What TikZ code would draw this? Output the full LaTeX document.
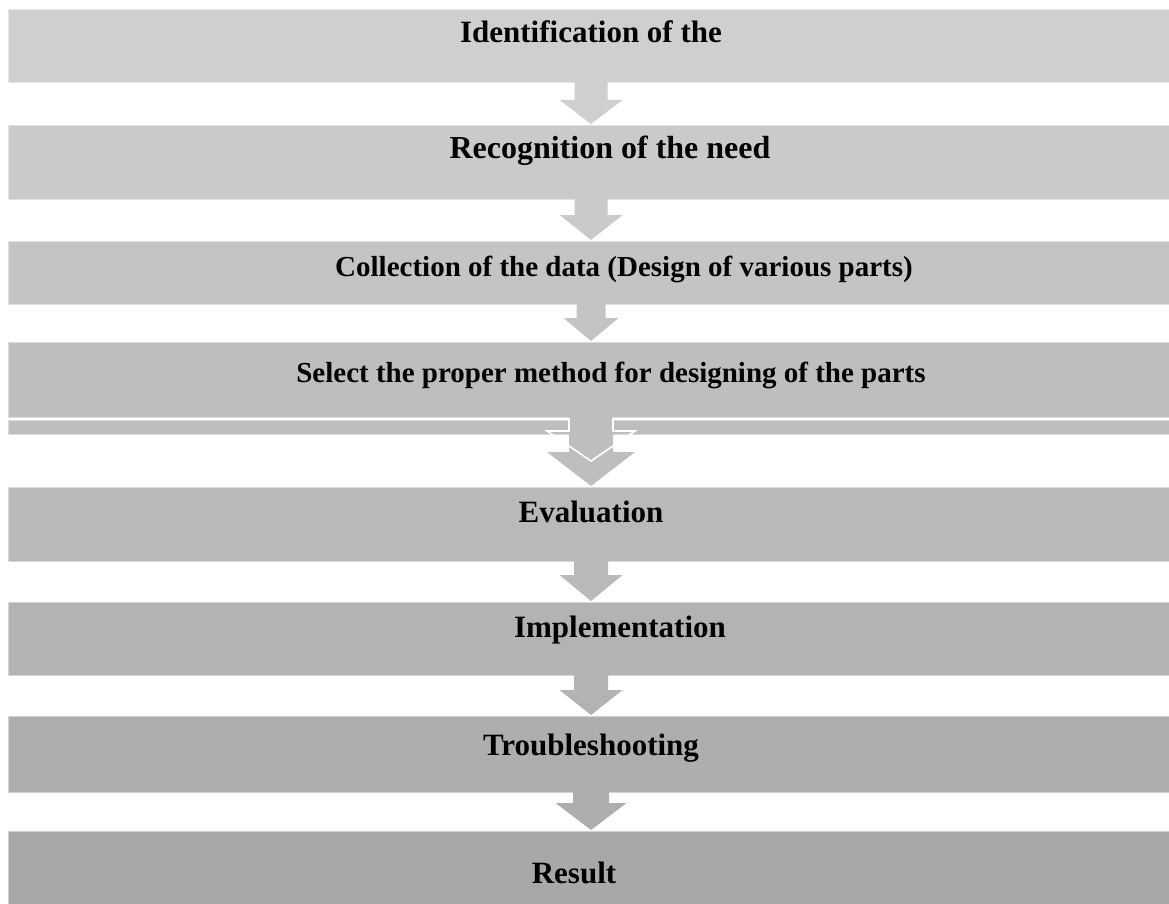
\documentclass[tikz,border=0pt]{standalone}
\usepackage{fontspec}
\setmainfont{Liberation Serif}
\usetikzlibrary{calc}
\definecolor{c1}{RGB}{207,207,207}
\definecolor{c2}{RGB}{202,202,202}
\definecolor{c3}{RGB}{196,196,196}
\definecolor{c4}{RGB}{190,190,190}
\definecolor{c5}{RGB}{185,185,185}
\definecolor{c6}{RGB}{179,179,179}
\definecolor{c7}{RGB}{174,174,174}
\definecolor{c8}{RGB}{168,168,168}
\tikzset{
  box/.style={rectangle, fill=#1, draw=#1!55!white, line width=1pt, inner sep=0pt,
              minimum width=1162pt, anchor=north west},
  lbl/.style={font=\bfseries\fontsize{31}{36}\selectfont, anchor=base, inner sep=0pt, text=black},
  lblsmall/.style={lbl, font=\bfseries\fontsize{29}{32}\selectfont},
  lblmid/.style={lbl, font=\bfseries\fontsize{29}{33}\selectfont},
}
% block arrow: #1 upper node, #2 lower node, #3 shaft half width, #4 head half width, #5 head length, #6 colour
\newcommand{\blockarrow}[6]{%
  \fill[#6] let \p1=(#1.south), \p2=(#2.north) in
    (591pt-#3,\y1+2pt) -- (591pt+#3,\y1+2pt) -- (591pt+#3,\y2+#5) -- (591pt+#4,\y2+#5)
    -- (591pt,\y2+1pt) -- (591pt-#4,\y2+#5) -- (591pt-#3,\y2+#5) -- cycle;}
\begin{document}
\begin{tikzpicture}[x=1pt,y=-1pt]
\useasboundingbox[fill=white] (0,0) rectangle (1169,904);
% boxes
\node[box=c1, minimum height=73pt] (b1) at (8,9) {};
\node[box=c2, minimum height=74pt] (b2) at (8,125) {};
\node[box=c3, minimum height=63pt] (b3) at (8,241) {};
\node[box=c4, minimum height=75pt] (b4) at (8,342) {};
\node[box=c4, minimum height=14pt] (s4) at (8,420) {};
\node[box=c5, minimum height=74pt] (b5) at (8,487) {};
\node[box=c6, minimum height=73pt] (b6) at (8,602) {};
\node[box=c7, minimum height=76pt] (b7) at (8,716) {};
\node[box=c8, minimum height=80pt] (b8) at (8,831) {};
% arrows
\blockarrow{b1}{b2}{16.5pt}{31.5pt}{25pt}{c1}
\blockarrow{b2}{b3}{16.5pt}{31.5pt}{26pt}{c2}
\blockarrow{b3}{b4}{14.5pt}{27.5pt}{24pt}{c3}
\blockarrow{b5}{b6}{17pt}{31.5pt}{27pt}{c5}
\blockarrow{b6}{b7}{17pt}{31.5pt}{26pt}{c6}
\blockarrow{b7}{b8}{18pt}{35.5pt}{28pt}{c7}
% the irregular arrow between box 4 and box 5
\fill[c4] let \p1=(b4.south), \p2=(b5.north) in
  (569pt,\y1+1pt) -- (613pt,\y1+1pt) -- (613pt,\y2+35pt) -- (635pt,\y2+35pt)
  -- (591pt,\y2+1pt) -- (547pt,\y2+35pt) -- (569pt,\y2+35pt) -- cycle;
\draw[white, line width=1.6pt] let \p1=(b4.south), \p2=(b5.north) in
  (569pt,\y1) -- (569pt,\y1-13pt) -- (547pt,\y1-13pt) -- (591pt,\y2+26pt)
  -- (635pt,\y1-13pt) -- (613pt,\y1-13pt) -- (613pt,\y1);
% labels
\node[lbl] (t1) at (591,43) {Identification of the};
\node[lbl, font=\bfseries\fontsize{32}{36}\selectfont] (t2) at (610,159) {Recognition of the need};
\node[lblsmall] (t3) at (624,276) {Collection of the data (Design of various parts)};
\node[lblmid] (t4) at (611,382) {Select the proper method for designing of the parts};
\node[lbl] (t5) at (591,522) {Evaluation};
\node[lbl] (t6) at (620,637) {Implementation};
\node[lbl] (t7) at (591,755) {Troubleshooting};
\node[lbl] (t8) at (574,883) {Result};
\end{tikzpicture}
\end{document}
